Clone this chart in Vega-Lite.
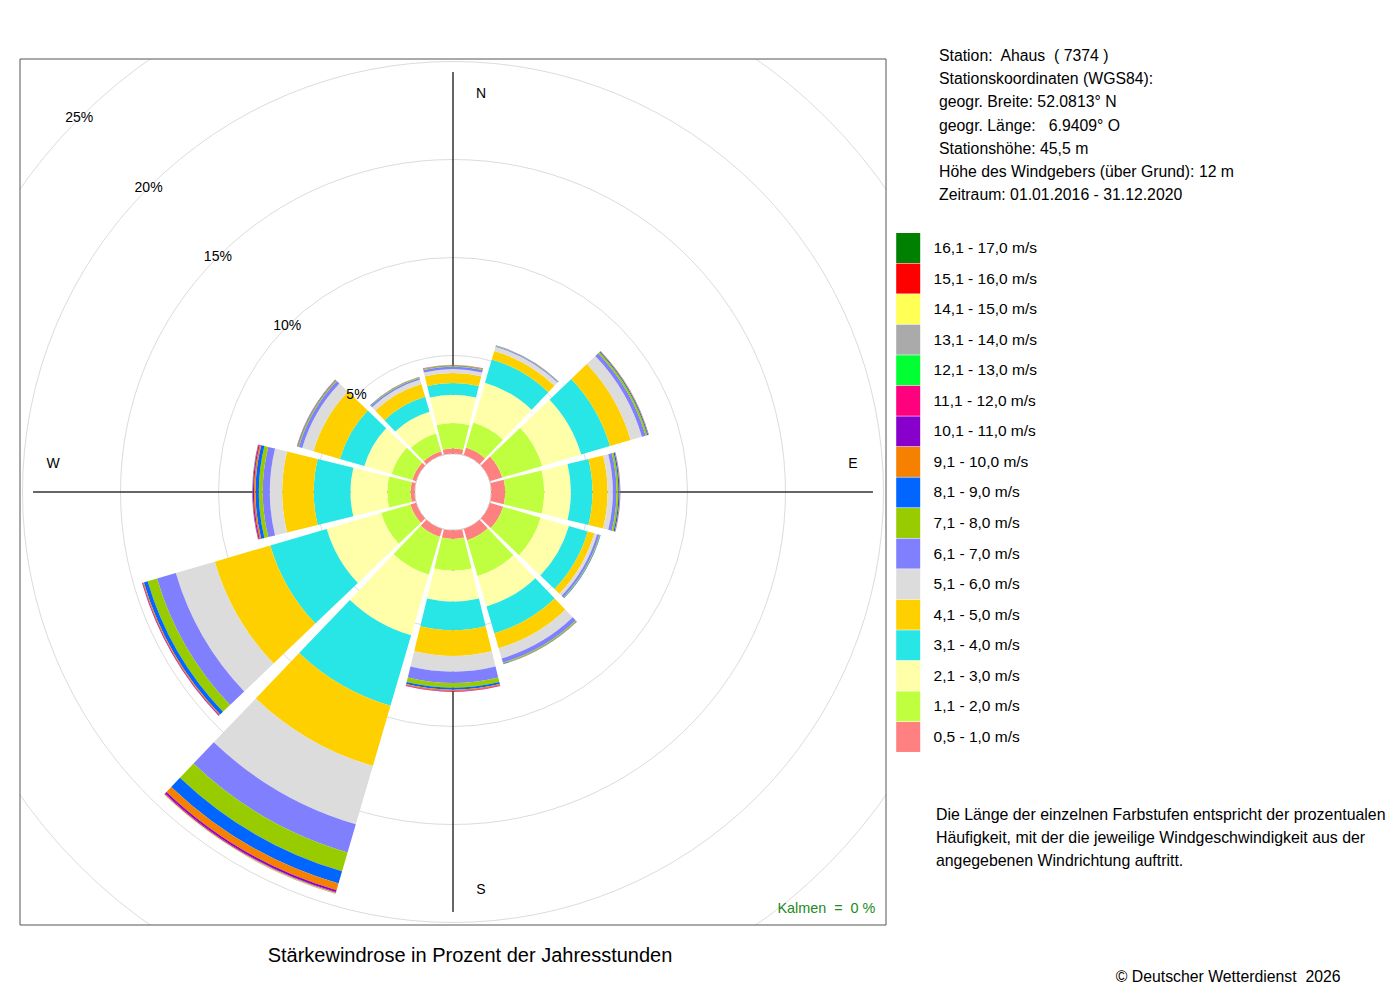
{
  "$schema": "https://vega.github.io/schema/vega-lite/v6.json",
  "width": 866,
  "height": 866,
  "autosize": {"type": "none"},
  "padding": {"left": 20, "top": 59, "right": 514, "bottom": 75},
  "background": "white",
  "title": {
    "text": "Stärkewindrose in Prozent der Jahresstunden",
    "orient": "bottom",
    "anchor": "middle",
    "frame": "group",
    "offset": -39,
    "dx": 17,
    "fontSize": 20,
    "fontWeight": "normal",
    "color": "#000"
  },
  "config": {
    "font": "Liberation Sans",
    "view": {"stroke": "#555", "strokeWidth": 1}
  },
  "datasets": {
    "classes": [
      {"k": 1, "s": "0,5 - 1,0 m/s"},
      {"k": 2, "s": "1,1 - 2,0 m/s"},
      {"k": 3, "s": "2,1 - 3,0 m/s"},
      {"k": 4, "s": "3,1 - 4,0 m/s"},
      {"k": 5, "s": "4,1 - 5,0 m/s"},
      {"k": 6, "s": "5,1 - 6,0 m/s"},
      {"k": 7, "s": "6,1 - 7,0 m/s"},
      {"k": 8, "s": "7,1 - 8,0 m/s"},
      {"k": 9, "s": "8,1 - 9,0 m/s"},
      {"k": 10, "s": "9,1 - 10,0 m/s"},
      {"k": 11, "s": "10,1 - 11,0 m/s"},
      {"k": 12, "s": "11,1 - 12,0 m/s"},
      {"k": 13, "s": "12,1 - 13,0 m/s"},
      {"k": 14, "s": "13,1 - 14,0 m/s"},
      {"k": 15, "s": "14,1 - 15,0 m/s"},
      {"k": 16, "s": "15,1 - 16,0 m/s"},
      {"k": 17, "s": "16,1 - 17,0 m/s"}
    ],
    "rings": [
      {"v": 0, "lab": ""},
      {"v": 5, "lab": "5%"},
      {"v": 10, "lab": "10%"},
      {"v": 15, "lab": "15%"},
      {"v": 20, "lab": "20%"},
      {"v": 25, "lab": "25%"}
    ],
    "axes": [
      {"d": 0, "lab": "N"},
      {"d": 90, "lab": "E"},
      {"d": 180, "lab": "S"},
      {"d": 270, "lab": "W"}
    ],
    "notes": [
      {"line": "Die Länge der einzelnen Farbstufen entspricht der prozentualen", "c": "© Deutscher Wetterdienst\u00a0 2026", "calm": "Kalmen\u00a0 =\u00a0 0 %"},
      {"line": "Häufigkeit, mit der die jeweilige Windgeschwindigkeit aus der", "c": "© Deutscher Wetterdienst\u00a0 2026", "calm": "Kalmen\u00a0 =\u00a0 0 %"},
      {"line": "angegebenen Windrichtung auftritt.", "c": "© Deutscher Wetterdienst\u00a0 2026", "calm": "Kalmen\u00a0 =\u00a0 0 %"}
    ],
    "rose": [
      {"d": 0, "k": 1, "p": 0.25}, {"d": 0, "k": 2, "p": 1.31}, {"d": 0, "k": 3, "p": 1.44}, {"d": 0, "k": 4, "p": 0.60},
      {"d": 0, "k": 5, "p": 0.51}, {"d": 0, "k": 6, "p": 0.20}, {"d": 0, "k": 7, "p": 0.13}, {"d": 0, "k": 8, "p": 0.04},
      {"d": 0, "k": 9, "p": 0.02}, {"d": 0, "k": 10, "p": 0.02}, {"d": 0, "k": 11, "p": 0.01},

      {"d": 30, "k": 1, "p": 0.40}, {"d": 30, "k": 2, "p": 1.33}, {"d": 30, "k": 3, "p": 2.11}, {"d": 30, "k": 4, "p": 1.24},
      {"d": 30, "k": 5, "p": 0.45}, {"d": 30, "k": 6, "p": 0.23}, {"d": 30, "k": 7, "p": 0.04}, {"d": 30, "k": 8, "p": 0.02},
      {"d": 30, "k": 9, "p": 0.01}, {"d": 30, "k": 10, "p": 0.01},

      {"d": 60, "k": 1, "p": 0.65}, {"d": 60, "k": 2, "p": 2.13}, {"d": 60, "k": 3, "p": 2.07}, {"d": 60, "k": 4, "p": 1.53},
      {"d": 60, "k": 5, "p": 1.10}, {"d": 60, "k": 6, "p": 0.60}, {"d": 60, "k": 7, "p": 0.20}, {"d": 60, "k": 8, "p": 0.09},
      {"d": 60, "k": 9, "p": 0.05}, {"d": 60, "k": 10, "p": 0.02}, {"d": 60, "k": 11, "p": 0.01},

      {"d": 90, "k": 1, "p": 0.70}, {"d": 90, "k": 2, "p": 1.99}, {"d": 90, "k": 3, "p": 1.36}, {"d": 90, "k": 4, "p": 1.10},
      {"d": 90, "k": 5, "p": 0.77}, {"d": 90, "k": 6, "p": 0.27}, {"d": 90, "k": 7, "p": 0.19}, {"d": 90, "k": 8, "p": 0.09},
      {"d": 90, "k": 9, "p": 0.06}, {"d": 90, "k": 10, "p": 0.03}, {"d": 90, "k": 11, "p": 0.01},

      {"d": 120, "k": 1, "p": 0.70}, {"d": 120, "k": 2, "p": 2.00}, {"d": 120, "k": 3, "p": 1.50}, {"d": 120, "k": 4, "p": 1.00},
      {"d": 120, "k": 5, "p": 0.35}, {"d": 120, "k": 6, "p": 0.15}, {"d": 120, "k": 7, "p": 0.12}, {"d": 120, "k": 8, "p": 0.04},
      {"d": 120, "k": 9, "p": 0.02},

      {"d": 150, "k": 1, "p": 0.60}, {"d": 150, "k": 2, "p": 1.90}, {"d": 150, "k": 3, "p": 1.62}, {"d": 150, "k": 4, "p": 1.43},
      {"d": 150, "k": 5, "p": 0.79}, {"d": 150, "k": 6, "p": 0.54}, {"d": 150, "k": 7, "p": 0.22}, {"d": 150, "k": 8, "p": 0.05},
      {"d": 150, "k": 9, "p": 0.03}, {"d": 150, "k": 10, "p": 0.01},

      {"d": 180, "k": 1, "p": 0.43}, {"d": 180, "k": 2, "p": 1.62}, {"d": 180, "k": 3, "p": 1.58}, {"d": 180, "k": 4, "p": 1.45},
      {"d": 180, "k": 5, "p": 1.32}, {"d": 180, "k": 6, "p": 0.80}, {"d": 180, "k": 7, "p": 0.58}, {"d": 180, "k": 8, "p": 0.24},
      {"d": 180, "k": 9, "p": 0.10}, {"d": 180, "k": 10, "p": 0.06}, {"d": 180, "k": 11, "p": 0.03}, {"d": 180, "k": 12, "p": 0.02},

      {"d": 210, "k": 1, "p": 0.42}, {"d": 210, "k": 2, "p": 2.01}, {"d": 210, "k": 3, "p": 3.22}, {"d": 210, "k": 4, "p": 3.75},
      {"d": 210, "k": 5, "p": 3.20}, {"d": 210, "k": 6, "p": 3.10}, {"d": 210, "k": 7, "p": 1.50}, {"d": 210, "k": 8, "p": 1.00},
      {"d": 210, "k": 9, "p": 0.65}, {"d": 210, "k": 10, "p": 0.35}, {"d": 210, "k": 11, "p": 0.10}, {"d": 210, "k": 12, "p": 0.04},
      {"d": 210, "k": 13, "p": 0.02}, {"d": 210, "k": 14, "p": 0.01}, {"d": 210, "k": 15, "p": 0.01}, {"d": 210, "k": 16, "p": 0.01},

      {"d": 240, "k": 1, "p": 0.30}, {"d": 240, "k": 2, "p": 1.56}, {"d": 240, "k": 3, "p": 2.89}, {"d": 240, "k": 4, "p": 3.00},
      {"d": 240, "k": 5, "p": 2.95}, {"d": 240, "k": 6, "p": 2.07}, {"d": 240, "k": 7, "p": 1.00}, {"d": 240, "k": 8, "p": 0.50},
      {"d": 240, "k": 9, "p": 0.20}, {"d": 240, "k": 10, "p": 0.06}, {"d": 240, "k": 11, "p": 0.03}, {"d": 240, "k": 12, "p": 0.01},

      {"d": 270, "k": 1, "p": 0.20}, {"d": 270, "k": 2, "p": 1.19}, {"d": 270, "k": 3, "p": 1.88}, {"d": 270, "k": 4, "p": 1.87},
      {"d": 270, "k": 5, "p": 1.61}, {"d": 270, "k": 6, "p": 0.63}, {"d": 270, "k": 7, "p": 0.36}, {"d": 270, "k": 8, "p": 0.20},
      {"d": 270, "k": 9, "p": 0.17}, {"d": 270, "k": 10, "p": 0.08}, {"d": 270, "k": 11, "p": 0.05}, {"d": 270, "k": 12, "p": 0.03},
      {"d": 270, "k": 13, "p": 0.01},

      {"d": 300, "k": 1, "p": 0.20}, {"d": 300, "k": 2, "p": 1.10}, {"d": 300, "k": 3, "p": 1.45}, {"d": 300, "k": 4, "p": 1.30},
      {"d": 300, "k": 5, "p": 1.40}, {"d": 300, "k": 6, "p": 0.60}, {"d": 300, "k": 7, "p": 0.18}, {"d": 300, "k": 8, "p": 0.05},
      {"d": 300, "k": 9, "p": 0.03}, {"d": 300, "k": 10, "p": 0.02}, {"d": 300, "k": 11, "p": 0.01},

      {"d": 330, "k": 1, "p": 0.20}, {"d": 330, "k": 2, "p": 0.95}, {"d": 330, "k": 3, "p": 1.15}, {"d": 330, "k": 4, "p": 0.80},
      {"d": 330, "k": 5, "p": 0.68}, {"d": 330, "k": 6, "p": 0.24}, {"d": 330, "k": 7, "p": 0.08}, {"d": 330, "k": 8, "p": 0.03},
      {"d": 330, "k": 9, "p": 0.02}, {"d": 330, "k": 10, "p": 0.01}
    ]
  },
  "layer": [
    {
      "data": {"name": "rings"},
      "mark": {"type": "arc", "filled": false, "stroke": "#dcdcdc", "strokeWidth": 1, "clip": true},
      "encoding": {
        "theta": {"datum": 0, "type": "quantitative", "scale": {"domain": [0, 360], "range": [0, 6.283185307179586]}},
        "theta2": {"datum": 360},
        "radius": {"field": "v", "type": "quantitative", "stack": null, "scale": {"type": "linear", "domain": [0, 25], "range": [38.5, 528.5], "zero": false}}
      }
    },
    {
      "data": {"name": "axes"},
      "mark": {"type": "arc", "filled": false, "stroke": "#333", "strokeWidth": 1},
      "encoding": {
        "theta": {"field": "d", "type": "quantitative", "stack": null, "scale": {"domain": [0, 360], "range": [0, 6.283185307179586]}},
        "theta2": {"field": "d"},
        "radius": {"datum": 19.46, "type": "quantitative", "scale": {"type": "linear", "domain": [0, 25], "range": [38.5, 528.5], "zero": false}}
      }
    },
    {
      "data": {"name": "rose"},
      "transform": [
        {"lookup": "k", "from": {"data": {"name": "classes"}, "key": "k", "fields": ["s"]}},
        {"stack": "p", "groupby": ["d"], "sort": [{"field": "k", "order": "ascending"}], "as": ["r0", "r1"]},
        {"calculate": "datum.d - 13.7", "as": "t0"},
        {"calculate": "datum.d + 13.7", "as": "t1"}
      ],
      "mark": {"type": "arc"},
      "encoding": {
        "theta": {"field": "t0", "type": "quantitative", "stack": null, "scale": {"domain": [0, 360], "range": [0, 6.283185307179586]}},
        "theta2": {"field": "t1"},
        "radius": {"field": "r1", "type": "quantitative", "stack": null, "scale": {"type": "linear", "domain": [0, 25], "range": [38.5, 528.5], "zero": false}},
        "radius2": {"field": "r0"},
        "fill": {
          "field": "s",
          "type": "nominal",
          "scale": {
            "domain": ["16,1 - 17,0 m/s", "15,1 - 16,0 m/s", "14,1 - 15,0 m/s", "13,1 - 14,0 m/s", "12,1 - 13,0 m/s", "11,1 - 12,0 m/s", "10,1 - 11,0 m/s", "9,1 - 10,0 m/s", "8,1 - 9,0 m/s", "7,1 - 8,0 m/s", "6,1 - 7,0 m/s", "5,1 - 6,0 m/s", "4,1 - 5,0 m/s", "3,1 - 4,0 m/s", "2,1 - 3,0 m/s", "1,1 - 2,0 m/s", "0,5 - 1,0 m/s"],
            "range": ["#008000", "#FF0000", "#FFFF55", "#AAAAAA", "#00FF33", "#FF007F", "#8800CC", "#F68000", "#0066FF", "#99CC00", "#8080FF", "#DCDCDC", "#FFD000", "#28E6E6", "#FFFFAA", "#BFFF40", "#FF8080"]
          },
          "legend": {
            "orient": "none",
            "legendX": 873.2,
            "legendY": 174,
            "direction": "vertical",
            "title": null,
            "padding": 0,
            "symbolType": "M-0.8,-1H0.8V1H-0.8Z",
            "symbolSize": 900,
            "symbolStrokeWidth": 0,
            "symbolOpacity": 1,
            "rowPadding": 0.56,
            "labelFontSize": 15.5,
            "labelOffset": 10.4,
            "labelLimit": 0,
            "labelColor": "#000"
          }
        }
      }
    },
    {
      "data": {"name": "rings"},
      "transform": [{"filter": "datum.v > 0"}],
      "mark": {"type": "text", "fontSize": 14, "align": "center", "baseline": "middle", "color": "#000"},
      "encoding": {
        "theta": {"datum": 315, "type": "quantitative", "scale": {"domain": [0, 360], "range": [0, 6.283185307179586]}},
        "radius": {"field": "v", "type": "quantitative", "stack": null, "scale": {"type": "linear", "domain": [0, 25], "range": [38.5, 528.5], "zero": false}},
        "text": {"field": "lab"}
      }
    },
    {
      "data": {"name": "axes"},
      "transform": [{"filter": "datum.d == 0 || datum.d == 180"}],
      "mark": {"type": "text", "fontSize": 14, "align": "center", "baseline": "middle", "dx": 28, "color": "#000"},
      "encoding": {
        "theta": {"field": "d", "type": "quantitative", "stack": null, "scale": {"domain": [0, 360], "range": [0, 6.283185307179586]}},
        "radius": {"datum": 18.35, "type": "quantitative", "scale": {"type": "linear", "domain": [0, 25], "range": [38.5, 528.5], "zero": false}},
        "text": {"field": "lab"}
      }
    },
    {
      "data": {"name": "axes"},
      "transform": [{"filter": "datum.d == 90 || datum.d == 270"}],
      "mark": {"type": "text", "fontSize": 14, "align": "center", "baseline": "middle", "dy": -28, "color": "#000"},
      "encoding": {
        "theta": {"field": "d", "type": "quantitative", "stack": null, "scale": {"domain": [0, 360], "range": [0, 6.283185307179586]}},
        "radius": {"datum": 18.44, "type": "quantitative", "scale": {"type": "linear", "domain": [0, 25], "range": [38.5, 528.5], "zero": false}},
        "text": {"field": "lab"}
      }
    },
    {
      "data": {"values": [{}]},
      "mark": {"type": "rect", "filled": false, "stroke": "#555", "strokeWidth": 1},
      "encoding": {}
    },
    {
      "data": {"name": "notes"},
      "mark": {"type": "point", "size": 0, "opacity": 0},
      "encoding": {
        "shape": {
          "field": "line",
          "type": "nominal",
          "scale": {
            "domain": ["Die Länge der einzelnen Farbstufen entspricht der prozentualen", "Häufigkeit, mit der die jeweilige Windgeschwindigkeit aus der", "angegebenen Windrichtung auftritt."],
            "range": ["circle", "circle", "circle"]
          },
          "legend": {
            "orient": "none",
            "legendX": 919,
            "legendY": -10,
            "direction": "vertical",
            "padding": 0,
            "title": ["Station:\u00a0 Ahaus\u00a0 ( 7374 )", "Stationskoordinaten (WGS84):", "geogr. Breite: 52.0813° N", "geogr. Länge:\u00a0\u00a0 6.9409° O", "Stationshöhe: 45,5 m", "Höhe des Windgebers (über Grund): 12 m", "Zeitraum: 01.01.2016 - 31.12.2020"],
            "titleFontSize": 15.8,
            "titleFontWeight": "normal",
            "titleColor": "#000",
            "titleLineHeight": 23.2,
            "titleBaseline": "top",
            "titleLimit": 0,
            "titlePadding": 603,
            "symbolSize": 0,
            "symbolOpacity": 0,
            "symbolStrokeWidth": 0,
            "labelFontSize": 15.9,
            "labelColor": "#000",
            "labelLimit": 0,
            "labelOffset": -19,
            "rowPadding": 6
          }
        },
        "strokeDash": {
          "field": "c",
          "type": "nominal",
          "scale": {"range": [[1, 0]]},
          "legend": {
            "orient": "none",
            "legendX": 1095,
            "legendY": 910,
            "padding": 0,
            "title": null,
            "symbolSize": 0,
            "symbolOpacity": 0,
            "symbolStrokeWidth": 0,
            "labelFontSize": 15.8,
            "labelColor": "#000",
            "labelLimit": 0,
            "labelOffset": -15
          }
        },
        "color": {
          "field": "calm",
          "type": "nominal",
          "scale": {"range": ["transparent"]},
          "legend": {
            "orient": "none",
            "legendX": 758,
            "legendY": 843,
            "padding": 0,
            "title": null,
            "symbolSize": 0,
            "symbolOpacity": 0,
            "symbolStrokeWidth": 0,
            "labelFontSize": 14.4,
            "labelColor": "#228B22",
            "labelLimit": 0,
            "labelOffset": -15
          }
        }
      }
    }
  ]
}
